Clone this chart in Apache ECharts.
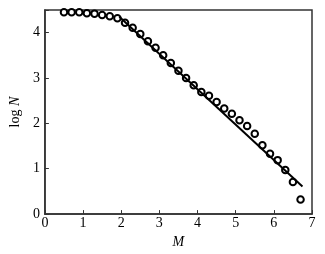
<!DOCTYPE html>
<html><head><meta charset="utf-8">
<script src="https://cdn.jsdelivr.net/npm/echarts@6/dist/echarts.min.js"></script>
<style>html,body{margin:0;padding:0;background:#fff}#c{width:325px;height:254px}</style>
</head><body><div id="c"></div>
<script>
const magnitudes = [0.5,0.7,0.9,1.1,1.3,1.5,1.7,1.9,2.1,2.3,2.5,2.7,2.9,3.1,3.3,3.5,3.7,3.9,4.1,4.3,4.5,4.7,4.9,5.1,5.3,5.5,5.7,5.9,6.1,6.3,6.5,6.7];
const logN = [4.45,4.45,4.45,4.43,4.42,4.39,4.36,4.32,4.22,4.11,3.97,3.81,3.67,3.50,3.33,3.16,3.00,2.84,2.69,2.61,2.47,2.33,2.21,2.07,1.94,1.77,1.52,1.33,1.19,0.97,0.71,0.32];
const fitM = [1.95, 6.75];
const fitLogN = [4.35, 0.61];
const xTicks = [0,1,2,3,4,5,6,7];
const yTicks = [0,1,2,3,4];

const chart = echarts.init(document.getElementById('c'), null, {renderer:'canvas'});
const font = 'Liberation Serif';
chart.setOption({
  animation:false,
  grid:{left:41,right:13,top:10,bottom:32,show:true,borderColor:'#333',borderWidth:1.5,backgroundColor:'transparent'},
  xAxis:{type:'value',min:0,max:7,interval:1,
    name:'M',nameLocation:'middle',nameGap:16,
    nameTextStyle:{fontFamily:font,fontStyle:'italic',fontSize:14,color:'#000'},
    axisLine:{show:true,onZero:false,lineStyle:{color:'#333',width:1.5}},
    axisTick:{show:true,inside:true,length:4,lineStyle:{color:'#333',width:1}},
    axisLabel:{fontFamily:font,fontSize:14,color:'#000',margin:2,showMaxLabel:true},
    splitLine:{show:false}},
  yAxis:{type:'value',min:0,max:4.5,interval:1,
    name:'log {i|N}',nameLocation:'middle',nameGap:22,nameRotate:90,
    nameTextStyle:{fontFamily:font,fontSize:14,color:'#000',
      rich:{i:{fontFamily:font,fontStyle:'italic',fontSize:14,color:'#000'}}},
    axisLine:{show:true,onZero:false,lineStyle:{color:'#333',width:1.5}},
    axisTick:{show:true,inside:true,length:4,lineStyle:{color:'#333',width:1}},
    axisLabel:{fontFamily:font,fontSize:14,color:'#000',margin:5,
      formatter:v=> yTicks.includes(v)? String(v):''},
    splitLine:{show:false}},
  series:[
    {type:'scatter',data:magnitudes.map((m,i)=>[m,logN[i]]),symbol:'circle',symbolSize:6.5,
      itemStyle:{color:'#fff',borderColor:'#000',borderWidth:2,opacity:1},z:2},
    {type:'line',data:fitM.map((m,i)=>[m,fitLogN[i]]),showSymbol:false,symbol:'none',
      lineStyle:{color:'#000',width:2},z:3}
  ]
});
</script></body></html>
